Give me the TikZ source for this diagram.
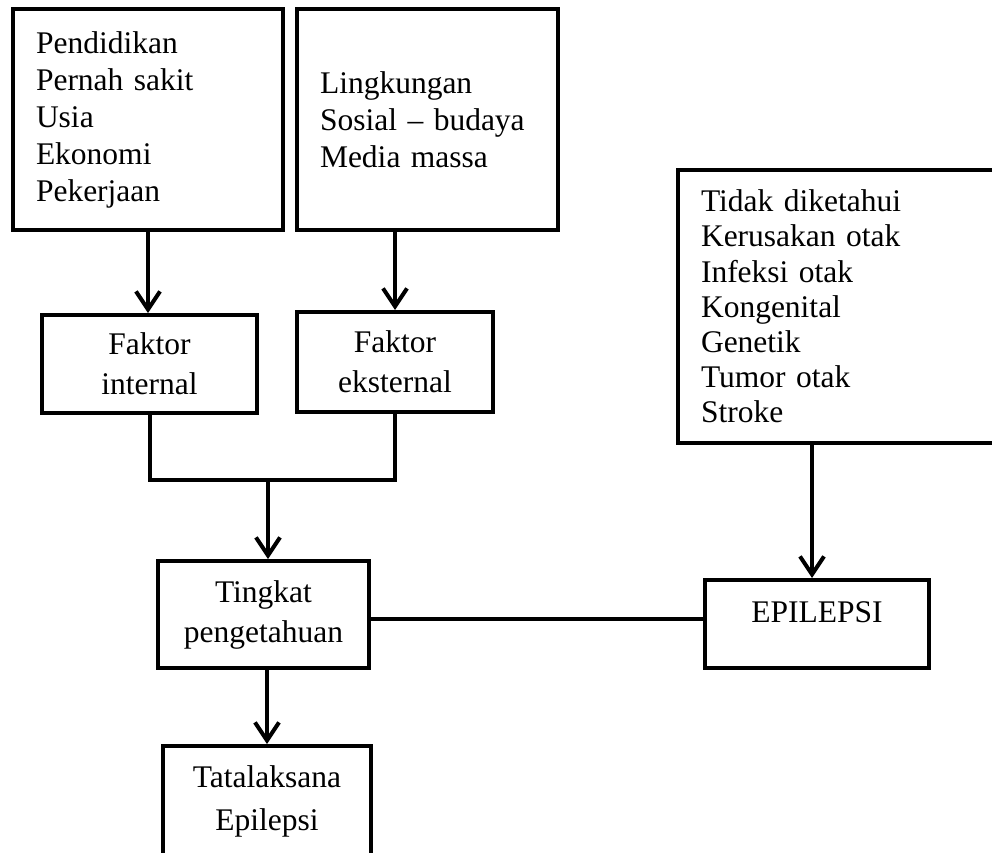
\documentclass[tikz,border=0pt]{standalone}
\usepackage{fontspec}
\setmainfont{Liberation Serif}[Scale=1.26607]
\usetikzlibrary{arrows.meta}
\tikzset{
  box/.style={draw, line width=4pt, rectangle, inner ysep=0pt, inner xsep=23pt, font=\fontsize{24.88}{37}\selectfont},
  listbox/.style={box, align=left},
  cbox/.style={box, align=center, inner xsep=0pt, font=\fontsize{24.88}{40}\selectfont},
  conn/.style={line width=4pt},
  arr/.style={conn, -{Straight Barb[length=18pt, width=24pt]}},
}
\begin{document}
\begin{tikzpicture}[x=1pt, y=-1pt]
\useasboundingbox (0,0) rectangle (992,852);
\clip (0,0) rectangle (992,852);
\node[listbox, minimum width=270pt, minimum height=221pt, text width=224pt] (b1) at (148,119.5)
  {Pendidikan\\Pernah sakit\\Usia\\Ekonomi\\Pekerjaan};
\node[listbox, minimum width=261pt, minimum height=221pt, text width=215pt] (b2) at (427.5,119.5)
  {Lingkungan\\Sosial -- budaya\\Media massa};
\node[listbox, minimum width=324pt, minimum height=273pt, text width=278pt, font=\fontsize{24.88}{35.2}\selectfont] (b3) at (840,306.5)
  {Tidak diketahui\\Kerusakan otak\\Infeksi otak\\Kongenital\\Genetik\\Tumor otak\\Stroke};
\node[cbox, minimum width=215pt, minimum height=98pt] (int) at (149.5,364) {Faktor\\internal};
\node[cbox, minimum width=196pt, minimum height=100pt] (ext) at (395,362) {Faktor\\eksternal};
\node[cbox, minimum width=211pt, minimum height=107pt] (tk) at (263.5,614.5) {Tingkat\\pengetahuan};
\node[cbox, minimum width=224pt, minimum height=88pt, text depth=23pt] (ep) at (817,624) {EPILEPSI};
\node[cbox, minimum width=208pt, minimum height=110pt, font=\fontsize{24.88}{43}\selectfont] (tata) at (267,801) {Tatalaksana\\Epilepsi};
\coordinate (j) at (268,480);
\coordinate (h) at (0,619);
\coordinate (v) at (812,0);
\draw[arr] (b1.south) -- (b1.south |- int.north);
\draw[arr] (ext.north |- b2.south) -- (ext.north);
\draw[conn] (int.south) |- (j) -| (ext.south);
\draw[arr] (j) -- (j |- tk.north);
\draw[conn] (tk.east |- h) -- (ep.west |- h);
\draw[arr] (v |- b3.south) -- (v |- ep.north);
\draw[arr] (tata.north |- tk.south) -- (tata.north);
\end{tikzpicture}
\end{document}
